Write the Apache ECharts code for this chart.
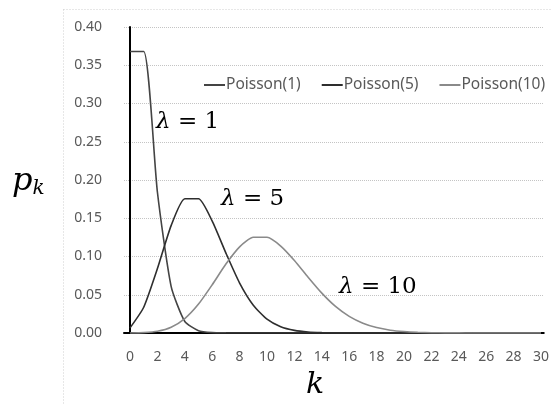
<!DOCTYPE html>
<html>
<head>
<meta charset="utf-8">
<script src="https://cdn.jsdelivr.net/npm/echarts@6/dist/echarts.min.js"></script>
<style>
  html, body { margin: 0; padding: 0; background: #fff; }
  #chart { width: 552px; height: 404px; }
</style>
</head>
<body>
<div id="chart"></div>
<script>
// k = 0..30
var ks = [];
for (var i = 0; i <= 30; i++) ks.push(i);

// probabilities
var pois1 = [0.368, 0.368, 0.184, 0.061, 0.015, 0.003, 0.0005, 0.0001, 0, 0, 0, 0, 0, 0, 0, 0,
  0, 0, 0, 0, 0, 0, 0, 0, 0, 0, 0, 0, 0, 0, 0];
var pois5 = [0.0067, 0.0337, 0.0842, 0.1404, 0.1755, 0.1755, 0.1462, 0.1044, 0.0653, 0.0363,
  0.0181, 0.0082, 0.0034, 0.0013, 0.0005, 0.0002, 0.0001, 0, 0, 0, 0, 0, 0, 0, 0, 0, 0, 0, 0, 0, 0];
var pois10 = [0.0000, 0.0005, 0.0023, 0.0076, 0.0189, 0.0378, 0.0631, 0.0901, 0.1126, 0.1251,
  0.1251, 0.1137, 0.0948, 0.0729, 0.0521, 0.0347, 0.0217, 0.0128, 0.0071, 0.0037, 0.0019,
  0.0009, 0.0004, 0.0002, 0.0001, 0, 0, 0, 0, 0, 0];

var xTicks = [0, 2, 4, 6, 8, 10, 12, 14, 16, 18, 20, 22, 24, 26, 28, 30];
var seriesNames = ['Poisson(1)', 'Poisson(5)', 'Poisson(10)'];
var seriesColors = ['#444444', '#2e2e2e', '#8a8a8a'];

var toPairs = function (vals) {
  return vals.map(function (v, i) { return [ks[i], v]; });
};

var myChart = echarts.init(document.getElementById('chart'));

var serif = 'DejaVu Serif';

var option = {
  backgroundColor: '#ffffff',
  animation: false,
  grid: { left: 124, right: 6, top: 27, bottom: 71 },
  legend: {
    data: seriesNames,
    left: 199,
    top: 72,
    width: 420,
    icon: 'rect',
    itemWidth: 21,
    itemHeight: 2,
    itemGap: 21,
    textStyle: { fontFamily: 'Noto Sans', fontSize: 15.5, color: '#595959', padding: [0, 0, 0, -4] }
  },
  xAxis: {
    type: 'value',
    min: -0.44,
    max: 30.2,
    splitLine: { show: false },
    axisTick: { show: false },
    axisLine: { onZero: false, lineStyle: { color: '#000', width: 2 } },
    axisLabel: {
      customValues: xTicks,
      margin: 17,
      fontFamily: 'Noto Sans',
      fontSize: 14,
      color: '#595959'
    }
  },
  yAxis: {
    type: 'value',
    min: 0,
    max: 0.4,
    interval: 0.05,
    axisTick: { show: false },
    axisLine: { show: true, lineStyle: { color: '#000', width: 2 } },
    splitLine: { lineStyle: { color: '#c4c4c4', type: 'dotted' } },
    axisLabel: {
      margin: 22,
      fontFamily: 'Noto Sans',
      fontSize: 14,
      color: '#595959',
      formatter: function (v) { return v.toFixed(2); }
    }
  },
  series: [pois1, pois5, pois10].map(function (vals, i) {
    return {
      name: seriesNames[i],
      type: 'line',
      data: toPairs(vals),
      symbol: 'none',
      smooth: 0.2,
      color: seriesColors[i],
      lineStyle: { width: 1.6, color: seriesColors[i] },
      z: 3 + i
    };
  }),
  graphic: [
    // faint dotted chart-area border
    {
      type: 'rect', left: 61, top: 7, z: -1,
      shape: { width: 600, height: 500 },
      style: { fill: 'none', stroke: '#cfcfcf', lineWidth: 1, lineDash: [1, 2] }
    },
    {
      type: 'text', left: 12, top: 166,
      style: {
        text: '{p|p}{s|k}',
        rich: {
          p: { fontFamily: serif, fontStyle: 'italic', fontSize: 32, fill: '#000' },
          s: { fontFamily: serif, fontStyle: 'italic', fontSize: 20, fill: '#000', padding: [14, 0, 0, 0] }
        }
      }
    },
    {
      type: 'text', left: 306, top: 370,
      style: { text: 'k', fontFamily: serif, fontStyle: 'italic', fontSize: 30, fill: '#000' }
    },
    {
      type: 'text', left: 156, top: 111,
      style: {
        text: '{l|λ} = 1',
        fontFamily: serif, fontSize: 23, fill: '#000',
        rich: { l: { fontFamily: serif, fontStyle: 'italic', fontSize: 23, fill: '#000' } }
      }
    },
    {
      type: 'text', left: 221, top: 188,
      style: {
        text: '{l|λ} = 5',
        fontFamily: serif, fontSize: 23, fill: '#000',
        rich: { l: { fontFamily: serif, fontStyle: 'italic', fontSize: 23, fill: '#000' } }
      }
    },
    {
      type: 'text', left: 339, top: 276,
      style: {
        text: '{l|λ} = 10',
        fontFamily: serif, fontSize: 23, fill: '#000',
        rich: { l: { fontFamily: serif, fontStyle: 'italic', fontSize: 23, fill: '#000' } }
      }
    }
  ]
};

option && myChart.setOption(option);
</script>
</body>
</html>
